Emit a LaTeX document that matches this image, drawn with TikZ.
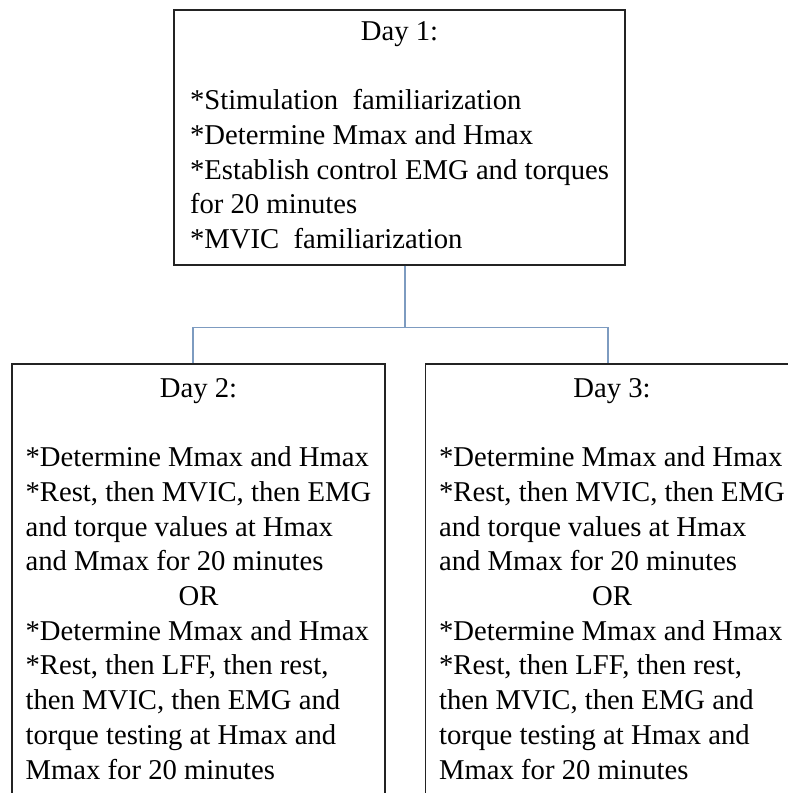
\documentclass[tikz,border=0pt]{standalone}
\usepackage{fontspec}
\setmainfont{Liberation Serif}
\usepackage{xcolor}
\usepackage{tikz}
\usetikzlibrary{positioning, calc}
\definecolor{linkc}{RGB}{125,155,192}
\definecolor{framec}{RGB}{35,35,35}

\begin{document}
\begin{tikzpicture}[font=\fontsize{20.4}{24.7}\selectfont,
  daybox/.style={draw=framec, line width=0.8pt, inner sep=0pt, fill=white},
  link/.style={linkc, line width=0.8pt}]

% canvas 788x793 px, 0.025cm per px; y grows downward as negative values
\useasboundingbox (0,0) rectangle (19.7,-19.825);
\clip (0,0) rectangle (19.7,-19.825);

%% ── day 1 ────────────────────────────────────────────────────────
\node[daybox, minimum width=11.275cm, minimum height=6.375cm] (day1) at (9.9875,-3.4375)
  {\begin{tabular}{@{}l@{}}
   \multicolumn{1}{@{}c@{}}{Day 1:}\\
   \\
   {*}Stimulation\ \ familiarization\\
   {*}Determine Mmax and Hmax\\
   {*}Establish control EMG and torques\\
   for 20 minutes\\
   {*}MVIC\ \ familiarization
   \end{tabular}};

%% ── day 2 and day 3 (same protocol) ──────────────────────────────
\foreach \d/\x in {2/4.9625, 3/15.3}{
  \node[daybox, minimum width=9.325cm, minimum height=10.86cm] (day\d) at (\x,-14.53)
    {\begin{tabular}{@{}l@{}}
     \multicolumn{1}{@{}c@{}}{Day \d:}\\
     \\
     {*}Determine Mmax and Hmax\\
     {*}Rest, then MVIC, then EMG\\
     and torque values at Hmax\\
     and Mmax for 20 minutes\\
     \multicolumn{1}{@{}c@{}}{OR}\\
     {*}Determine Mmax and Hmax\\
     {*}Rest, then LFF, then rest,\\
     then MVIC, then EMG and\\
     torque testing at Hmax and\\
     Mmax for 20 minutes
     \end{tabular}};
}

%% ── tree connector ───────────────────────────────────────────────
\draw[link] ([xshift=0.1375cm]day1.south) -- ++(0,-1.55) coordinate (fork);
\draw[link] ([xshift=-0.1375cm]day2.north) |- (fork) -| ([xshift=-0.1cm]day3.north);

\end{tikzpicture}
\end{document}
